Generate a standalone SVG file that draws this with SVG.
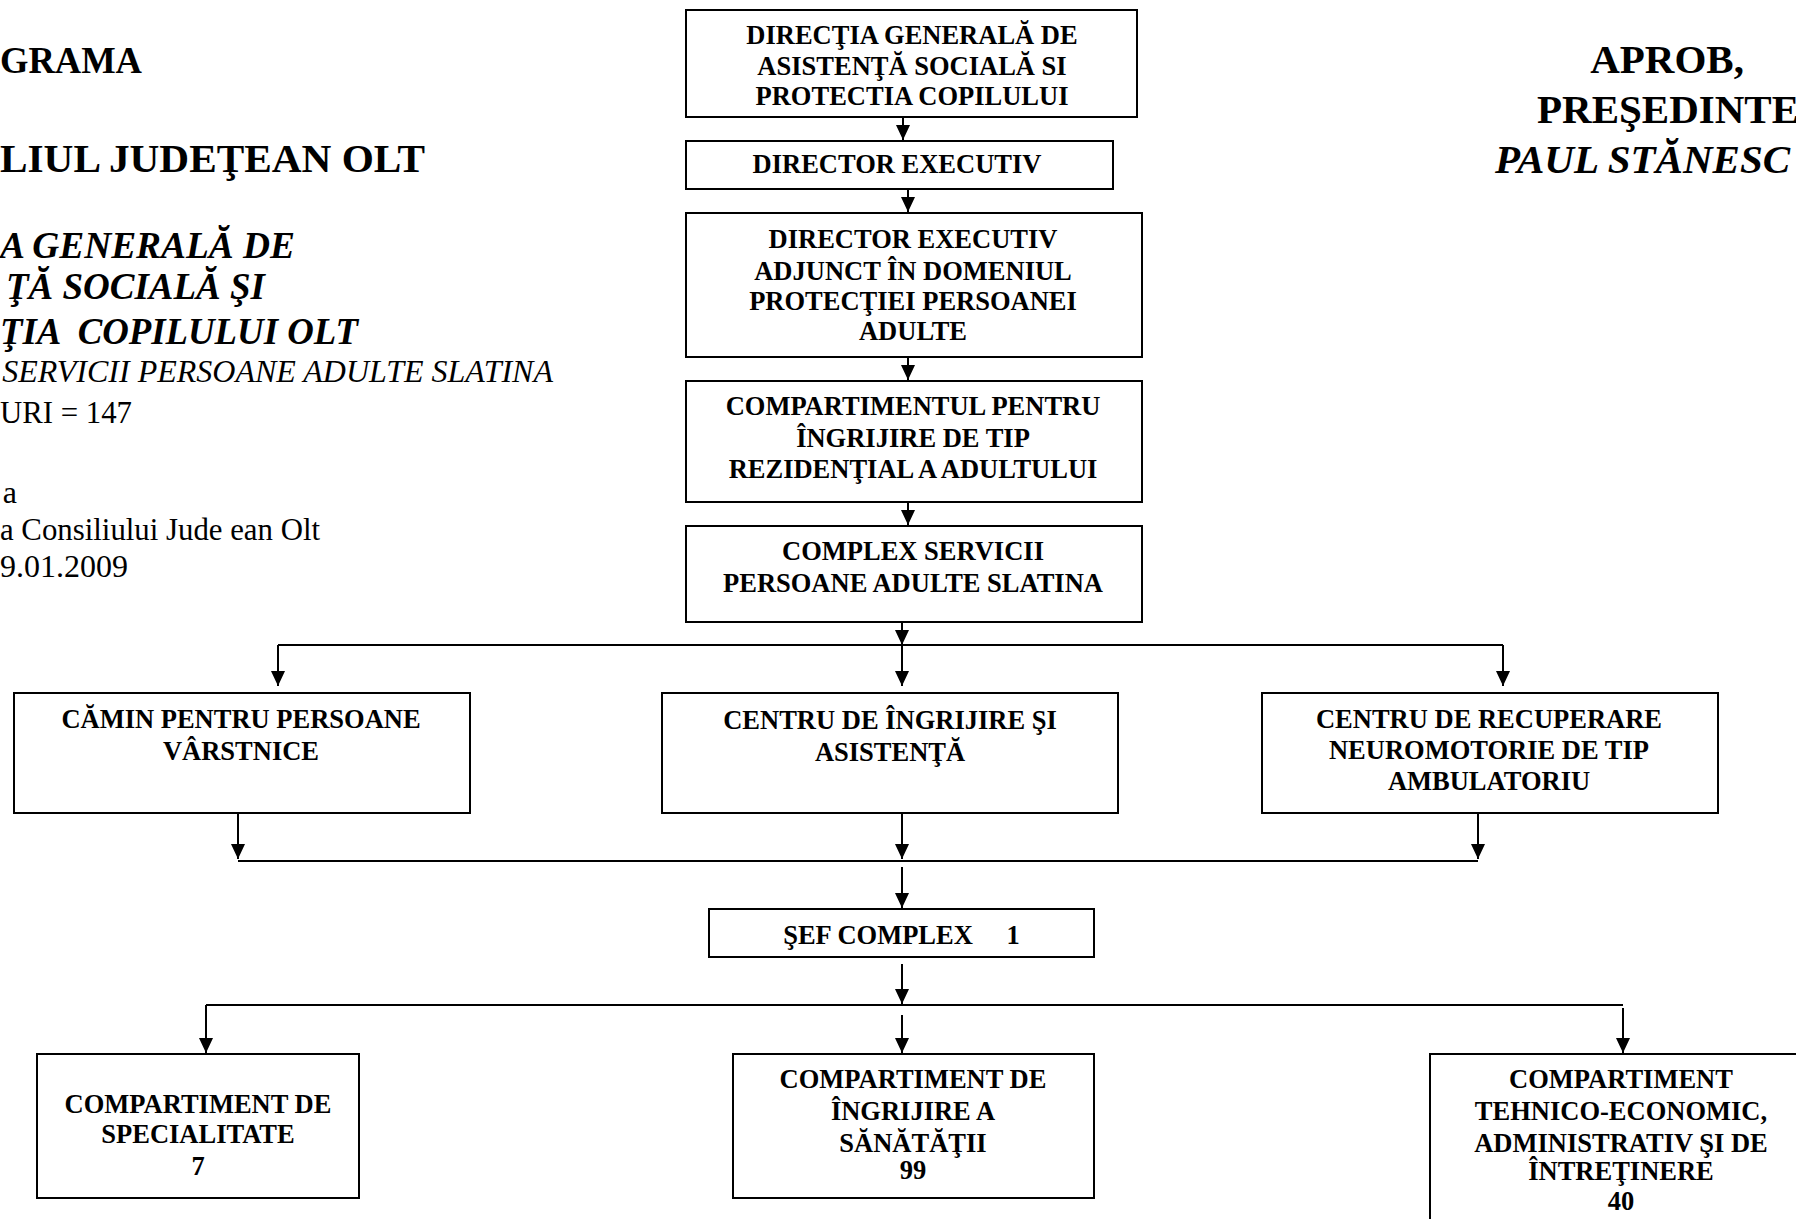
<svg xmlns="http://www.w3.org/2000/svg" width="1796" height="1219" viewBox="0 0 1796 1219">
<style>
text{font-family:"Liberation Serif","Times New Roman",serif;fill:#000}
.b{font-weight:bold}
.bi{font-weight:bold;font-style:italic}
.i{font-style:italic}
.node rect{fill:#fff;stroke:#000;stroke-width:2}
.node text{font-weight:bold;font-size:26.5px;text-anchor:middle}
.conn line{stroke:#000;stroke-width:2;fill:none}
.conn .a{marker-end:url(#arr)}
</style>
<defs>
<marker id="arr" viewBox="0 0 15 14" refX="15" refY="7" markerWidth="15" markerHeight="14" markerUnits="userSpaceOnUse" orient="auto">
<path d="M0,0 L15,7 L0,14 z" fill="#000"/>
</marker>
</defs>
<rect x="0" y="0" width="1796" height="1219" fill="#fff"/>

<g id="header-left">
<text class="b" x="0" y="73" font-size="37" textLength="142" lengthAdjust="spacingAndGlyphs">GRAMA</text>
<text class="b" x="0" y="172" font-size="41" textLength="425" lengthAdjust="spacingAndGlyphs">LIUL JUDEŢEAN OLT</text>
<text class="bi" x="0" y="258" font-size="37" textLength="295" lengthAdjust="spacingAndGlyphs">A GENERALĂ DE</text>
<text class="bi" x="265" y="299" font-size="37" text-anchor="end">ŢĂ SOCIALĂ ŞI</text>
<text class="bi" x="0" y="344" font-size="37" textLength="358" lengthAdjust="spacingAndGlyphs" xml:space="preserve">ŢIA  COPILULUI OLT</text>
<text class="i" x="553" y="382" font-size="32" text-anchor="end">SERVICII PERSOANE ADULTE SLATINA</text>
<text x="0" y="423" font-size="32" textLength="132" lengthAdjust="spacingAndGlyphs">URI = 147</text>
<text x="17" y="503" font-size="32" text-anchor="end">a</text>
<text x="0" y="540" font-size="32" textLength="320" lengthAdjust="spacingAndGlyphs">a Consiliului Jude ean Olt</text>
<text x="0" y="577" font-size="32" textLength="128" lengthAdjust="spacingAndGlyphs">9.01.2009</text>
</g>

<g id="header-right">
<text class="b" x="1667" y="73" font-size="41" text-anchor="middle">APROB,</text>
<text class="b" x="1537" y="123" font-size="41">PREŞEDINTE</text>
<text class="bi" x="1495" y="173" font-size="41">PAUL STĂNESC</text>
</g>

<g class="conn" id="connectors">
<line class="a" x1="903" y1="117" x2="903" y2="140"/>
<line class="a" x1="908" y1="189" x2="908" y2="212"/>
<line class="a" x1="908" y1="357" x2="908" y2="380"/>
<line class="a" x1="908" y1="502" x2="908" y2="525"/>
<line class="a" x1="902" y1="622" x2="902" y2="645"/>
<line x1="278" y1="645" x2="1503" y2="645"/>
<line class="a" x1="278" y1="645" x2="278" y2="686"/>
<line class="a" x1="902" y1="645" x2="902" y2="686"/>
<line class="a" x1="1503" y1="645" x2="1503" y2="686"/>
<line class="a" x1="238" y1="813" x2="238" y2="859"/>
<line class="a" x1="902" y1="813" x2="902" y2="859"/>
<line class="a" x1="1478" y1="813" x2="1478" y2="859"/>
<line x1="238" y1="861" x2="1478" y2="861"/>
<line class="a" x1="902" y1="867" x2="902" y2="908"/>
<line class="a" x1="902" y1="964" x2="902" y2="1004"/>
<line x1="206" y1="1005" x2="1623" y2="1005"/>
<line class="a" x1="206" y1="1005" x2="206" y2="1053"/>
<line class="a" x1="902" y1="1015" x2="902" y2="1053"/>
<line class="a" x1="1623" y1="1008" x2="1623" y2="1053"/>
</g>

<g class="node" id="dgaspc">
<rect x="686" y="10" width="451" height="107"/>
<text x="912"><tspan x="912" y="44">DIRECŢIA GENERALĂ DE</tspan><tspan x="912" y="75">ASISTENŢĂ SOCIALĂ SI</tspan><tspan x="912" y="105">PROTECTIA COPILULUI</tspan></text>
</g>
<g class="node" id="director-executiv">
<rect x="686" y="141" width="427" height="48"/>
<text x="897" y="173">DIRECTOR EXECUTIV</text>
</g>
<g class="node" id="director-adjunct">
<rect x="686" y="213" width="456" height="144"/>
<text><tspan x="913" y="248">DIRECTOR EXECUTIV</tspan><tspan x="913" y="280">ADJUNCT ÎN DOMENIUL</tspan><tspan x="913" y="310">PROTECŢIEI PERSOANEI</tspan><tspan x="913" y="340">ADULTE</tspan></text>
</g>
<g class="node" id="compartiment-rezidential">
<rect x="686" y="381" width="456" height="121"/>
<text><tspan x="913" y="415">COMPARTIMENTUL PENTRU</tspan><tspan x="913" y="447">ÎNGRIJIRE DE TIP</tspan><tspan x="913" y="478">REZIDENŢIAL A ADULTULUI</tspan></text>
</g>
<g class="node" id="complex-servicii">
<rect x="686" y="526" width="456" height="96"/>
<text><tspan x="913" y="560">COMPLEX SERVICII</tspan><tspan x="913" y="592">PERSOANE ADULTE SLATINA</tspan></text>
</g>
<g class="node" id="camin">
<rect x="14" y="693" width="456" height="120"/>
<text><tspan x="241" y="728">CĂMIN PENTRU PERSOANE</tspan><tspan x="241" y="760">VÂRSTNICE</tspan></text>
</g>
<g class="node" id="centru-ingrijire">
<rect x="662" y="693" width="456" height="120"/>
<text><tspan x="890" y="729">CENTRU DE ÎNGRIJIRE ŞI</tspan><tspan x="890" y="761">ASISTENŢĂ</tspan></text>
</g>
<g class="node" id="centru-recuperare">
<rect x="1262" y="693" width="456" height="120"/>
<text><tspan x="1489" y="728">CENTRU DE RECUPERARE</tspan><tspan x="1489" y="759">NEUROMOTORIE DE TIP</tspan><tspan x="1489" y="790">AMBULATORIU</tspan></text>
</g>
<g class="node" id="sef-complex">
<rect x="709" y="909" width="385" height="48"/>
<text x="878" y="944">ŞEF COMPLEX</text>
<text x="1013" y="944">1</text>
</g>
<g class="node" id="comp-specialitate">
<rect x="37" y="1054" width="322" height="144"/>
<text><tspan x="198" y="1113">COMPARTIMENT DE</tspan><tspan x="198" y="1143">SPECIALITATE</tspan><tspan x="198" y="1175">7</tspan></text>
</g>
<g class="node" id="comp-sanatate">
<rect x="733" y="1054" width="361" height="144"/>
<text><tspan x="913" y="1088">COMPARTIMENT DE</tspan><tspan x="913" y="1120">ÎNGRIJIRE A</tspan><tspan x="913" y="1152">SĂNĂTĂŢII</tspan><tspan x="913" y="1179">99</tspan></text>
</g>
<g class="node" id="comp-tehnico">
<rect x="1430" y="1054" width="382" height="180"/>
<text><tspan x="1621" y="1088">COMPARTIMENT</tspan><tspan x="1621" y="1120">TEHNICO-ECONOMIC,</tspan><tspan x="1621" y="1152">ADMINISTRATIV ŞI DE</tspan><tspan x="1621" y="1180">ÎNTREŢINERE</tspan><tspan x="1621" y="1210">40</tspan></text>
</g>
</svg>
